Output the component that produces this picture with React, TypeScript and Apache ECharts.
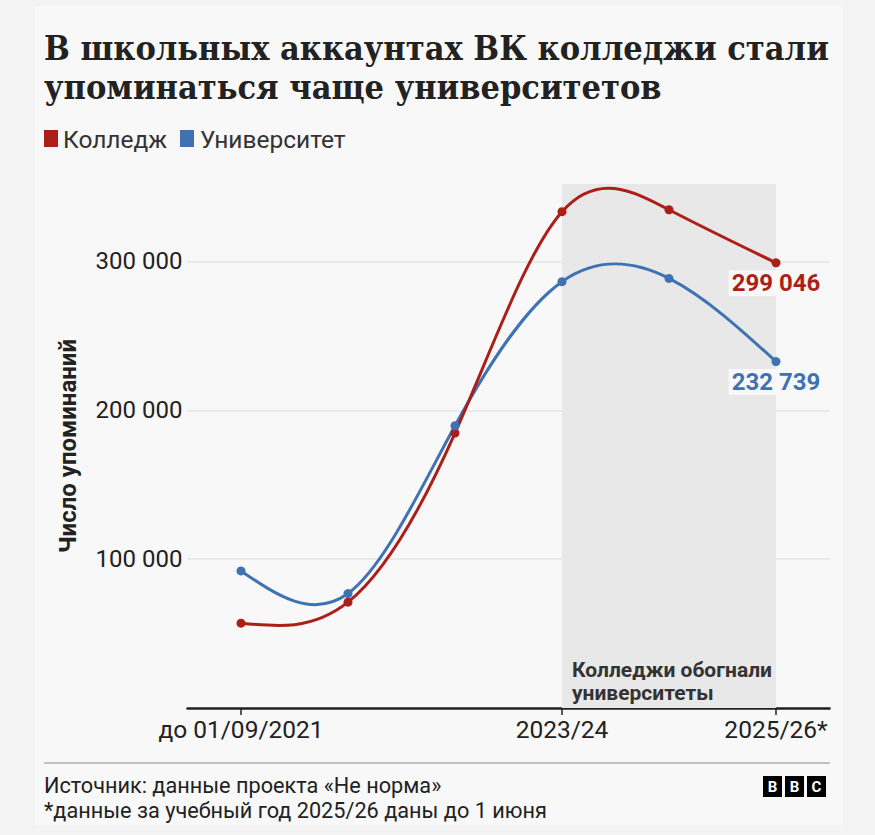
import React, { useEffect, useRef } from "react";
import * as echarts from "echarts";

const titleLines = ["В школьных аккаунтах ВК колледжи стали", "упоминаться чаще университетов"];
const categories = ["до 01/09/2021", "2021/22", "2022/23", "2023/24", "2024/25", "2025/26*"];
const labeledCategories = ["до 01/09/2021", "2023/24", "2025/26*"];
const seriesNames = ["Колледж", "Университет"];
const collegeValues = [57000, 71100, 184700, 333400, 334700, 299046];
const universityValues = [92100, 76900, 189600, 286400, 288600, 232739];
const yMax = 352000;
const yInterval = 100000;
const shadeRange = ["2023/24", "2025/26*"];
const annotation = "Колледжи обогнали\nуниверситеты";
const yAxisName = "Число упоминаний";
const sourceText = "Источник: данные проекта «Не норма»";
const footnoteText = "*данные за учебный год 2025/26 даны до 1 июня";

const RED = "#ac1f18";
const BLUE = "#3f72b2";
const INK = "#222222";
const SANS = "Roboto, 'Noto Sans', sans-serif";

const fmt = (v: number) => String(Math.round(v)).replace(/\B(?=(\d{3})+(?!\d))/g, " ");

// natural cubic spline control points (as in d3.curveNatural)
function controlPoints(x: number[]) {
  const n = x.length - 1;
  const a = new Array(n), b = new Array(n), r = new Array(n);
  a[0] = 0; b[0] = 2; r[0] = x[0] + 2 * x[1];
  for (let i = 1; i < n - 1; ++i) { a[i] = 1; b[i] = 4; r[i] = 4 * x[i] + 2 * x[i + 1]; }
  a[n - 1] = 2; b[n - 1] = 7; r[n - 1] = 8 * x[n - 1] + x[n];
  for (let i = 1; i < n; ++i) { const m = a[i] / b[i - 1]; b[i] -= m; r[i] -= m * r[i - 1]; }
  a[n - 1] = r[n - 1] / b[n - 1];
  for (let i = n - 2; i >= 0; --i) a[i] = (r[i] - a[i + 1]) / b[i];
  b[n - 1] = (x[n] + a[n - 1]) / 2;
  for (let i = 0; i < n - 1; ++i) b[i] = 2 * x[i + 1] - a[i + 1];
  return [a, b];
}

function naturalPath(pts: number[][]) {
  const xs = pts.map((p) => p[0]);
  const ys = pts.map((p) => p[1]);
  const [ax, bx] = controlPoints(xs);
  const [ay, by] = controlPoints(ys);
  let d = `M${xs[0]},${ys[0]}`;
  for (let i = 0; i < xs.length - 1; i++) {
    d += ` C${ax[i]},${ay[i]} ${bx[i]},${by[i]} ${xs[i + 1]},${ys[i + 1]}`;
  }
  return d;
}

export default function App() {
  const ref = useRef<HTMLDivElement>(null);
  useEffect(() => {
    if (!ref.current) return;
    const chart = echarts.init(ref.current, undefined, { renderer: "svg" });
    const last = categories.length - 1;
    const mkData = (vals: number[], color: string) =>
      vals.map((v, i) =>
        i === last
          ? {
              value: v,
              label: {
                show: true,
                position: "bottom",
                distance: 3,
                formatter: (p: any) => fmt(p.value),
                color,
                fontFamily: SANS,
                fontWeight: "bold",
                fontSize: 24,
                backgroundColor: "#f8f8f8",
                padding: [1, 3],
              },
            }
          : v
      );
    const curveSeries = (vals: number[], color: string, name: string) => ({
      name,
      type: "custom",
      data: vals.map((v, i) => [i, v]),
      encode: { x: 0, y: 1 },
      z: 3,
      silent: true,
      renderItem: (params: any, api: any) => {
        if (params.dataIndex !== 0) return null;
        const pts = vals.map((v, i) => api.coord([i, v]));
        return {
          type: "path",
          shape: { pathData: naturalPath(pts) },
          style: { stroke: color, lineWidth: 3, fill: "none" },
        };
      },
    });
    const showIdx = (i: number) => labeledCategories.includes(categories[i]);
    chart.setOption({
      animation: false,
      backgroundColor: "#f3f3f3",
      grid: { left: 187.5, right: 45.5, top: 184, bottom: 127, containLabel: false },
      xAxis: {
        type: "category",
        data: categories,
        boundaryGap: true,
        axisLine: { show: true, lineStyle: { color: INK, width: 2.5 } },
        axisTick: {
          show: true,
          alignWithLabel: true,
          interval: (i: number) => showIdx(i),
          length: 7,
          lineStyle: { color: INK, width: 1.5 },
        },
        axisLabel: {
          interval: (i: number) => showIdx(i),
          fontFamily: SANS,
          fontSize: 24.5,
          color: INK,
          margin: 9,
        },
        splitLine: { show: false },
      },
      yAxis: {
        type: "value",
        min: 0,
        max: yMax,
        interval: yInterval,
        name: yAxisName,
        nameLocation: "middle",
        nameRotate: 90,
        nameGap: 108,
        nameTextStyle: { fontFamily: SANS, fontSize: 24, fontWeight: "bold", color: INK },
        axisLine: { show: false },
        axisTick: { show: false },
        axisLabel: {
          fontFamily: SANS,
          fontSize: 24,
          color: INK,
          margin: 5,
          showMinLabel: false,
          showMaxLabel: false,
          formatter: (v: number) => fmt(v),
        },
        splitLine: { show: true, showMinLine: false, showMaxLine: false, lineStyle: { color: "#e6e6e6", width: 1.5 } },
      },
      series: [
        {
          name: seriesNames[0],
          type: "line",
          data: mkData(collegeValues, RED),
          symbol: "circle",
          symbolSize: 9,
          itemStyle: { color: RED },
          lineStyle: { width: 0, opacity: 0 },
          z: 5,
          markArea: {
            silent: true,
            itemStyle: { color: "#e8e8e8" },
            label: {
              show: true,
              position: "insideBottomLeft",
              distance: 4,
              padding: [0, 0, 0, 6],
              formatter: annotation,
              fontFamily: SANS,
              fontWeight: "bold",
              fontSize: 21,
              lineHeight: 23,
              color: "#333333",
            },
            data: [[{ xAxis: shadeRange[0] }, { xAxis: shadeRange[1] }]],
          },
        },
        {
          name: seriesNames[1],
          type: "line",
          data: mkData(universityValues, BLUE),
          symbol: "circle",
          symbolSize: 9,
          itemStyle: { color: BLUE },
          lineStyle: { width: 0, opacity: 0 },
          z: 5,
        },
        curveSeries(universityValues, BLUE, seriesNames[1] + " curve"),
        curveSeries(collegeValues, RED, seriesNames[0] + " curve"),
      ],
      graphic: [
        { type: "rect", shape: { x: 35, y: 6, width: 808, height: 819 }, style: { fill: "#f8f8f8" }, z: -10, silent: true },
        ...titleLines.map((t, i) => ({
          type: "text",
          x: 44,
          y: 49 + i * 39,
          scaleX: 0.927,
          style: {
            text: t,
            fontFamily: "'DejaVu Serif', serif",
            fontWeight: "bold",
            fontSize: 33,
            fill: INK,
            verticalAlign: "middle",
          },
        })),
        { type: "rect", shape: { x: 44, y: 130, width: 14, height: 17 }, style: { fill: RED } },
        { type: "text", x: 63, y: 139, style: { text: seriesNames[0], fontFamily: SANS, fontSize: 24.5, fill: "#333", verticalAlign: "middle" } },
        { type: "rect", shape: { x: 180, y: 130, width: 14, height: 17 }, style: { fill: BLUE } },
        { type: "text", x: 200, y: 139, style: { text: seriesNames[1], fontFamily: SANS, fontSize: 24.5, fill: "#333", verticalAlign: "middle" } },
        { type: "line", shape: { x1: 44, y1: 763, x2: 830, y2: 763 }, style: { stroke: "#8a8a8a", lineWidth: 1.2 } },
        { type: "text", x: 44, y: 785, style: { text: sourceText, fontFamily: SANS, fontSize: 21.7, fill: INK, verticalAlign: "middle" } },
        { type: "text", x: 44, y: 810, style: { text: footnoteText, fontFamily: SANS, fontSize: 21.7, fill: INK, verticalAlign: "middle" } },
        ...["B", "B", "C"].flatMap((ch, i) => [
          { type: "rect", shape: { x: 763 + i * 22, y: 776, width: 19, height: 21 }, style: { fill: "#000" } },
          {
            type: "text",
            x: 763 + i * 22 + 9.5,
            y: 786.5,
            style: { text: ch, fontFamily: SANS, fontWeight: "bold", fontSize: 15, fill: "#fff", align: "center", verticalAlign: "middle" },
          },
        ]),
      ],
    });
    return () => chart.dispose();
  }, []);
  return <div ref={ref} style={{ position: "absolute", left: 0, top: 0, width: 875, height: 835 }} />;
}
